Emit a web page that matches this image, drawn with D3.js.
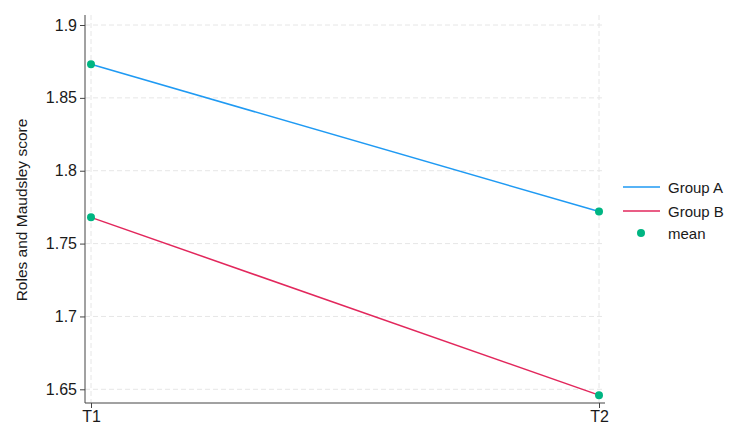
<!DOCTYPE html>
<html><head><meta charset="utf-8">
<script src="https://cdn.jsdelivr.net/npm/d3@7"></script>
<style>body{margin:0;background:#fff}svg{display:block;font-family:"Liberation Sans",Arial,sans-serif}</style>
</head><body><svg id="c" width="730" height="430"></svg>
<script>
const categories = ["T1", "T2"];
const groupA = [1.873, 1.772];
const groupB = [1.768, 1.646];
const yTicks = [1.65, 1.7, 1.75, 1.8, 1.85, 1.9];
const seriesNames = ["Group A", "Group B"];
const colors = ["#1f9af3", "#e2275c"];
const dotColor = "#00b582";

(function () {
const svg = d3.select("#c");
const x = d3.scalePoint().domain(categories).range([91, 599]);
const y = d3.scaleLinear().domain([1.65, 1.9]).range([389.3, 25]);
const pL = 85, pR = 605, pT = 15, pB = 403;

// grid
svg.append("g").selectAll("line").data(yTicks).join("line")
  .attr("x1", pL).attr("x2", pR).attr("y1", d => y(d)).attr("y2", d => y(d))
  .attr("stroke", "#e6e6e6").attr("stroke-width", 1).attr("stroke-dasharray", "5,3");
svg.append("g").selectAll("line").data(categories).join("line")
  .attr("x1", d => x(d)).attr("x2", d => x(d)).attr("y1", pT).attr("y2", pB)
  .attr("stroke", "#e6e6e6").attr("stroke-width", 1).attr("stroke-dasharray", "5,3");

// axes
const yAxis = svg.append("g").attr("transform", `translate(${pL},0)`)
  .call(d3.axisLeft(y).tickValues(yTicks).tickFormat(d => String(+d.toFixed(2))).tickSize(5).tickPadding(3));
yAxis.select(".domain").attr("d", `M0,${pT}V${pB}`).attr("stroke", "#444");
yAxis.selectAll(".tick line").attr("stroke", "#444");
yAxis.selectAll("text").attr("font-size", 16).attr("fill", "#1a1a1a");

const xAxis = svg.append("g").attr("transform", `translate(0,${pB})`)
  .call(d3.axisBottom(x).tickSize(5).tickPadding(3));
xAxis.select(".domain").attr("d", `M${pL},0H${pR}`).attr("stroke", "#444");
xAxis.selectAll(".tick line").attr("stroke", "#444");
xAxis.selectAll("text").attr("font-size", 16).attr("fill", "#1a1a1a");

svg.append("text").attr("transform", "translate(27,210) rotate(-90)")
  .attr("text-anchor", "middle").attr("font-size", 15.5).attr("fill", "#1a1a1a")
  .text("Roles and Maudsley score");

// lines
const series = [groupA, groupB];
const line = d3.line().x((d, i) => x(categories[i])).y(d => y(d));
series.forEach((s, k) => {
  svg.append("path").datum(s).attr("d", line).attr("fill", "none")
    .attr("stroke", colors[k]).attr("stroke-width", 1.5);
});
series.forEach(s => {
  svg.append("g").selectAll("circle").data(s).join("circle")
    .attr("cx", (d, i) => x(categories[i])).attr("cy", d => y(d)).attr("r", 4)
    .attr("fill", dotColor);
});

// legend
const lg = svg.append("g");
seriesNames.forEach((n, k) => {
  const yy = 187 + k * 24;
  lg.append("line").attr("x1", 623).attr("x2", 660).attr("y1", yy).attr("y2", yy)
    .attr("stroke", colors[k]).attr("stroke-width", 1.5);
  lg.append("text").attr("x", 668).attr("y", yy + 5.5).attr("font-size", 15).attr("fill", "#1a1a1a").text(n);
});
lg.append("circle").attr("cx", 641).attr("cy", 233).attr("r", 4).attr("fill", dotColor);
lg.append("text").attr("x", 668).attr("y", 238.5).attr("font-size", 15).attr("fill", "#1a1a1a").text("mean");
})();
</script></body></html>
